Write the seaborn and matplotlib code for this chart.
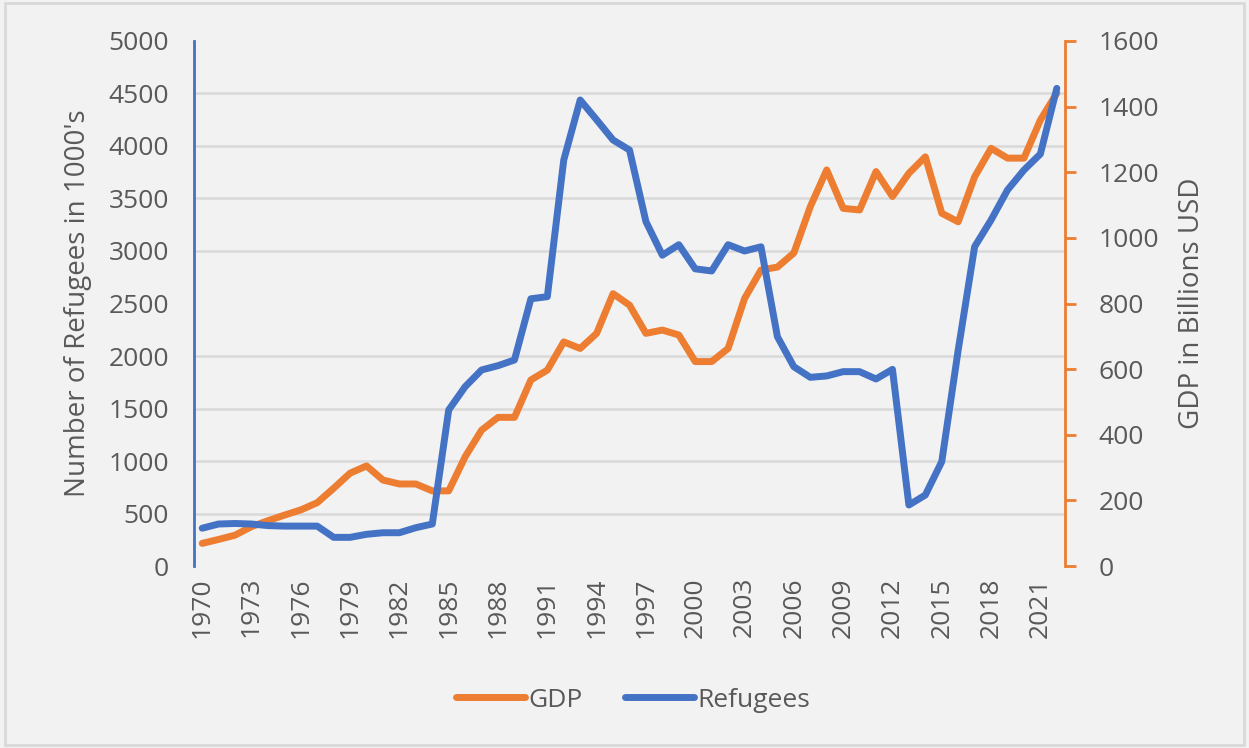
import matplotlib
matplotlib.use("Agg")
import matplotlib.pyplot as plt
from matplotlib.ticker import MultipleLocator
from matplotlib.patches import Rectangle
from matplotlib.lines import Line2D
import seaborn as sns
import pandas as pd

# Data
years = list(range(1970, 2023))
refugees = [360, 400, 405, 400, 385, 380, 380, 380, 273, 273,
            302, 317, 317, 365, 400, 1486, 1708, 1867, 1908, 1962,
            2545, 2565, 3867, 4438, 4250, 4057, 3962, 3280, 2960, 3060,
            2830, 2810, 3060, 3000, 3040, 2184, 1898, 1797, 1810, 1851,
            1851, 1781, 1873, 581, 676, 994, 2057, 3041, 3295, 3581,
            3771, 3924, 4549]
gdp = [69, 81, 94, 120, 138, 155, 171, 193, 237, 283,
       305, 262, 250, 250, 229, 229, 333, 414, 453, 453,
       567, 597, 683, 663, 709, 830, 795, 709, 719, 704,
       623, 623, 663, 815, 902, 911, 954, 1095, 1207, 1090,
       1085, 1202, 1126, 1197, 1247, 1075, 1049, 1186, 1273, 1243,
       1243, 1359, 1441]

BG = "#f2f2f2"
GRID = "#d9d9d9"
TXT = "#595959"
ORANGE = "#ED7D31"
BLUE = "#4472C4"

df = pd.DataFrame({"year": years, "Refugees": refugees, "GDP": gdp})

sns.set_style("white")
plt.rcParams["font.family"] = ["Open Sans", "DejaVu Sans"]

fig = plt.figure(figsize=(12.49, 7.48), dpi=100, facecolor=BG)
fig.patches.append(Rectangle((0.004, 0.004), 0.992, 0.992, transform=fig.transFigure,
                             fill=False, edgecolor=GRID, linewidth=2))
ax = fig.add_axes([0.1553, 0.2433, 0.6974, 0.7019])
ax2 = ax.twinx()

# GDP on the secondary (right) axis, drawn underneath
ax2.set_facecolor(BG)
sns.lineplot(data=df, x="year", y="GDP", ax=ax2, color=ORANGE, linewidth=5,
             legend=False, solid_capstyle="round")
ax2.set_ylim(0, 1600)
ax2.yaxis.set_major_locator(MultipleLocator(200))
# gridlines matching the left axis 500-step (500 refugees = 160 on the GDP scale)
ax2.yaxis.set_minor_locator(MultipleLocator(160))
ax2.grid(which="minor", axis="y", color=GRID, linewidth=1.8)
ax2.grid(which="major", visible=False)
ax2.tick_params(axis="y", which="minor", length=0)
ax2.tick_params(axis="y", which="major", direction="out", length=8, width=2,
                color=ORANGE, labelcolor=TXT, labelsize=19, pad=16)
ax2.set_ylabel("GDP in Billions USD", fontsize=20, color=TXT, labelpad=14)
for s in ["left", "top", "bottom"]:
    ax2.spines[s].set_visible(False)
ax2.spines["right"].set_color(ORANGE)
ax2.spines["right"].set_linewidth(2)

# Refugees on the primary (left) axis, drawn on top
ax.set_zorder(ax2.get_zorder() + 1)
ax.patch.set_visible(False)
sns.lineplot(data=df, x="year", y="Refugees", ax=ax, color=BLUE, linewidth=5,
             legend=False, solid_capstyle="round")
ax.set_ylim(0, 5000)
ax.yaxis.set_major_locator(MultipleLocator(500))
ax.set_xlim(years[0] - 0.5, years[-1] + 0.5)
ax.set_xticks(years[::3])
ax.set_xticklabels([str(y) for y in years[::3]], rotation=90)
ax.tick_params(axis="y", length=0, labelcolor=TXT, labelsize=19, pad=18)
ax.tick_params(axis="x", length=0, labelcolor=TXT, labelsize=19, pad=8)
ax.set_xlabel("")
ax.set_ylabel("Number of Refugees in 1000's", fontsize=20, color=TXT, labelpad=12)
ax.grid(False)
for s in ["right", "top", "bottom"]:
    ax.spines[s].set_visible(False)
ax.spines["left"].set_color(BLUE)
ax.spines["left"].set_linewidth(2)

handles = [Line2D([], [], color=ORANGE, linewidth=5, solid_capstyle="round"),
           Line2D([], [], color=BLUE, linewidth=5, solid_capstyle="round")]
fig.legend(handles, ["GDP", "Refugees"], loc="center", bbox_to_anchor=(0.507, 0.064),
           ncol=2, frameon=False, fontsize=19, labelcolor=TXT, handlelength=2.6,
           handletextpad=0.15, columnspacing=1.6)

fig.savefig("out.png", dpi=100, facecolor=BG)
